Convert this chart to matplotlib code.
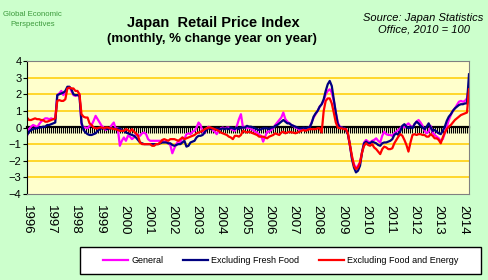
import numpy as np
import matplotlib
matplotlib.use("Agg")
import matplotlib.pyplot as plt
from matplotlib.lines import Line2D
from matplotlib.patches import Rectangle

plt.rcParams["font.family"] = ["Liberation Sans", "DejaVu Sans"]

# monthly % change year on year, Jan 1996 .. Apr 2014
years = list(range(1996, 2015))

general = [
    -0.5, -0.1, 0.05, 0.15, 0.1, 0.0, 0.2, 0.35, 0.45, 0.55, 0.55, 0.5,
    0.55, 0.5, 0.5, 1.95, 2.05, 2.2, 1.95, 2.1, 2.35, 2.45, 2.2, 1.95,
    1.9, 1.95, 2.0, 0.2, 0.0, 0.0, -0.05, 0.1, 0.15, 0.4, 0.7, 0.5,
    0.3, 0.1, 0.0, -0.15, -0.05, -0.05, 0.15, 0.3, -0.1, -0.05, -1.1, -0.8,
    -0.6, -0.8, -0.5, -0.55, -0.7, -0.6, -0.4, -0.45, -0.5, -0.35, -0.3, -0.4,
    -0.7, -0.8, -0.8, -0.8, -0.8, -0.8, -0.8, -0.8, -0.85, -0.85, -0.95, -1.05,
    -1.55, -1.25, -1.0, -0.8, -0.9, -0.6, -0.7, -0.4, -0.35, -0.4, -0.25, -0.2,
    0.0, 0.3, 0.15, -0.25, -0.35, -0.05, 0.05, -0.05, -0.15, -0.25, -0.4, -0.2,
    -0.05, 0.0, -0.1, 0.0, 0.0, -0.1, -0.15, -0.2, 0.1, 0.5, 0.8, 0.0,
    0.05, -0.05, 0.0, -0.1, -0.15, -0.25, -0.3, -0.45, -0.5, -0.85, -0.55, -0.25,
    -0.25, -0.15, -0.05, 0.15, 0.3, 0.45, 0.6, 0.9, 0.5, 0.35, 0.25, 0.15,
    0.1, 0.0, -0.05, -0.15, -0.1, -0.1, -0.1, -0.05, 0.0, 0.3, 0.6, 0.8,
    1.0, 1.25, 1.4, 1.6, 2.0, 2.2, 2.3, 2.1, 1.6, 0.9, 0.3, 0.05,
    0.0, -0.05, -0.1, -0.4, -1.1, -1.8, -2.2, -2.45, -2.3, -2.1, -1.5, -0.9,
    -0.75, -0.85, -0.9, -0.8, -0.75, -0.65, -0.8, -0.9, -0.5, -0.25, -0.4, -0.45,
    -0.45, -0.5, -0.35, -0.25, -0.15, -0.05, 0.1, 0.0, 0.15, 0.25, 0.1, 0.0,
    0.2, 0.35, 0.45, 0.3, 0.1, -0.2, -0.35, -0.25, 0.1, -0.3, -0.45, -0.55,
    -0.65, -0.8, -0.7, -0.35, 0.05, 0.45, 0.75, 1.0, 1.15, 1.35, 1.55, 1.6,
    1.55, 1.6, 1.75, 2.5,
]

ex_fresh_food = [
    -0.45, -0.25, -0.15, -0.1, -0.05, -0.05, 0.0, 0.0, 0.05, 0.05, 0.15, 0.15,
    0.2, 0.25, 0.3, 1.95, 2.0, 2.05, 2.1, 2.2, 2.45, 2.45, 2.3, 2.0,
    1.95, 1.95, 1.9, 0.3, -0.15, -0.3, -0.4, -0.45, -0.45, -0.4, -0.35, -0.2,
    -0.1, -0.05, -0.05, -0.05, -0.1, -0.05, -0.05, -0.05, -0.1, -0.1, -0.05, -0.15,
    -0.2, -0.3, -0.35, -0.4, -0.45, -0.5, -0.6, -0.75, -0.9, -0.95, -1.0, -1.0,
    -1.0, -1.0, -1.0, -1.0, -1.0, -1.0, -0.95, -0.9, -0.9, -0.9, -0.95, -0.95,
    -1.05, -1.1, -1.05, -1.0, -1.0, -0.9, -0.8, -1.15, -1.1, -0.9, -0.85, -0.8,
    -0.6, -0.5, -0.5, -0.45, -0.3, -0.1, -0.05, -0.1, -0.05, -0.1, -0.05, -0.1,
    -0.1, -0.05, -0.1, -0.05, -0.1, 0.0, -0.05, -0.1, 0.0, -0.1, 0.0, 0.0,
    0.0, 0.1, 0.05, 0.05, 0.0, -0.05, -0.1, -0.15, -0.1, -0.05, -0.05, -0.05,
    -0.1, 0.0, 0.0, 0.1, 0.15, 0.25, 0.35, 0.45, 0.35, 0.25, 0.25, 0.15,
    0.1, 0.05, 0.0, -0.05, -0.05, 0.0, -0.05, 0.0, 0.0, 0.25, 0.65, 0.85,
    1.0, 1.25, 1.4, 1.7, 2.2, 2.6, 2.8, 2.5, 1.7, 0.9, 0.2, 0.0,
    0.0, -0.05, -0.15, -0.4, -1.05, -1.9, -2.4, -2.7, -2.6, -2.3, -1.5, -0.95,
    -0.85, -0.95, -0.95, -0.85, -0.9, -0.95, -1.05, -1.1, -0.95, -0.9, -0.9, -0.85,
    -0.8, -0.7, -0.45, -0.35, -0.45, -0.2, 0.1, 0.2, 0.05, -0.05, 0.05, -0.05,
    0.2, 0.35, 0.25, 0.1, 0.0, -0.1, 0.05, 0.25, 0.0, -0.2, -0.15, -0.25,
    -0.35, -0.4, -0.2, 0.05, 0.4, 0.65, 0.8, 1.0, 1.15, 1.25, 1.35, 1.4,
    1.4, 1.45, 1.45, 3.2,
]

ex_food_energy = [
    0.6, 0.45, 0.45, 0.5, 0.55, 0.5, 0.5, 0.45, 0.45, 0.35, 0.35, 0.4,
    0.45, 0.5, 0.55, 1.6, 1.65, 1.6, 1.6, 1.7, 2.35, 2.4, 2.35, 2.35,
    2.2, 2.2, 2.0, 0.8, 0.65, 0.6, 0.6, 0.25, 0.15, 0.0, -0.05, -0.05,
    0.0, 0.0, -0.05, 0.0, 0.0, -0.05, -0.05, -0.1, -0.1, -0.15, -0.2, -0.2,
    -0.2, -0.1, -0.15, -0.25, -0.1, -0.25, -0.35, -0.5, -0.9, -1.0, -1.0, -1.0,
    -1.0, -1.0, -1.1, -1.1, -1.0, -1.0, -0.9, -0.75, -0.7, -0.75, -0.8, -0.7,
    -0.7, -0.7, -0.75, -0.8, -0.7, -0.6, -0.7, -0.65, -0.6, -0.55, -0.5, -0.45,
    -0.35, -0.3, -0.25, -0.2, -0.1, -0.05, 0.0, 0.0, -0.05, -0.1, -0.15, -0.2,
    -0.3, -0.35, -0.4, -0.45, -0.55, -0.6, -0.7, -0.5, -0.5, -0.55, -0.45, -0.2,
    -0.25, -0.3, -0.25, -0.3, -0.35, -0.4, -0.45, -0.55, -0.55, -0.55, -0.6, -0.65,
    -0.55, -0.5, -0.45, -0.35, -0.4, -0.45, -0.3, -0.25, -0.35, -0.3, -0.25, -0.3,
    -0.3, -0.35, -0.3, -0.25, -0.2, -0.15, -0.2, -0.15, -0.1, -0.1, -0.1, -0.1,
    -0.05, -0.05, -0.3, 1.0, 1.6, 1.75, 1.75, 1.45, 0.9, 0.3, 0.0, -0.05,
    -0.05, -0.1, -0.1, -0.35, -1.05, -1.7, -2.3, -2.5, -2.4, -2.1, -1.5, -1.1,
    -0.95, -1.05, -1.1, -1.0, -1.2, -1.3, -1.45, -1.6, -1.3, -1.15, -1.2, -1.3,
    -1.3, -1.25, -0.95, -0.75, -0.55, -0.4, -0.5, -0.75, -1.05, -1.45, -0.9, -0.45,
    -0.4, -0.45, -0.4, -0.4, -0.45, -0.45, -0.55, -0.55, -0.4, -0.5, -0.65, -0.65,
    -0.75, -0.95, -0.6, -0.3, -0.1, 0.05, 0.15, 0.3, 0.45, 0.55, 0.65, 0.75,
    0.8, 0.85, 0.9, 2.3,
]

labels = ["General", "Excluding Fresh Food", "Excluding Food and Energy"]
colors = ["#ff00ff", "#000080", "#ff0000"]

months = np.arange(len(general))

fig = plt.figure(figsize=(4.88, 2.80), dpi=100, facecolor="#ccffcc")
ax = fig.add_axes([27 / 488, 1 - 194 / 280, 442 / 488, 133 / 280])
ax.set_facecolor("#ffffcc")

for series, col in zip([general, ex_fresh_food, ex_food_energy], colors):
    ax.plot(months, series, color=col, lw=1.6, solid_joinstyle="round")

ax.set_xlim(0, months[-1])
ax.set_ylim(-4, 4)
ax.set_yticks(range(-4, 5))
for v in range(-3, 4):
    if v != 0:
        ax.axhline(v, color="#ffcc00", lw=1.1, zorder=0.5)

for side in ["top", "right", "bottom"]:
    ax.spines[side].set_color("#808080")
ax.spines["left"].set_color("black")
ax.tick_params(axis="y", direction="out", length=3, labelsize=8, pad=1)

ax.set_xticks(months[::12])
ax.set_xticklabels([str(y) for y in years], rotation=270, fontsize=9.5)
ax.tick_params(axis="x", length=0, pad=8)

# zero line with monthly ticks
zero = ax.secondary_xaxis(0.5)
zero.set_xticks(months)
zero.tick_params(direction="in", length=4, width=0.8, labeltop=False, labelbottom=False)
zero.spines["top"].set_linewidth(1.6)

fig.text(0.437, 0.918, "Japan  Retail Price Index", ha="center", va="center",
         fontsize=10.5, fontweight="bold")
fig.text(0.435, 0.86, "(monthly, % change year on year)", ha="center", va="center",
         fontsize=9.5, fontweight="bold")
fig.text(0.066, 0.932, "Global Economic\nPerspectives", ha="center", va="center",
         fontsize=5.6, color="#3c9a3c", linespacing=1.6)
fig.text(0.868, 0.915, "Source: Japan Statistics\nOffice, 2010 = 100", ha="center",
         va="center", fontsize=8, style="italic", linespacing=1.1)

# legend box
fig.patches.append(Rectangle((80 / 488, 1 - 274 / 280), 401 / 488, 27 / 280,
                             transform=fig.transFigure, facecolor="white",
                             edgecolor="black", lw=1.0))
handles = [Line2D([0], [0], color=c, lw=1.6) for c in colors]
fig.legend(handles, labels, ncol=3, loc="center", frameon=False,
           bbox_to_anchor=(281 / 488, 1 - 260.5 / 280), fontsize=6.5,
           handlelength=2.7, handletextpad=0.4, columnspacing=2.2)

fig.savefig("out.png", dpi=100, facecolor=fig.get_facecolor())
